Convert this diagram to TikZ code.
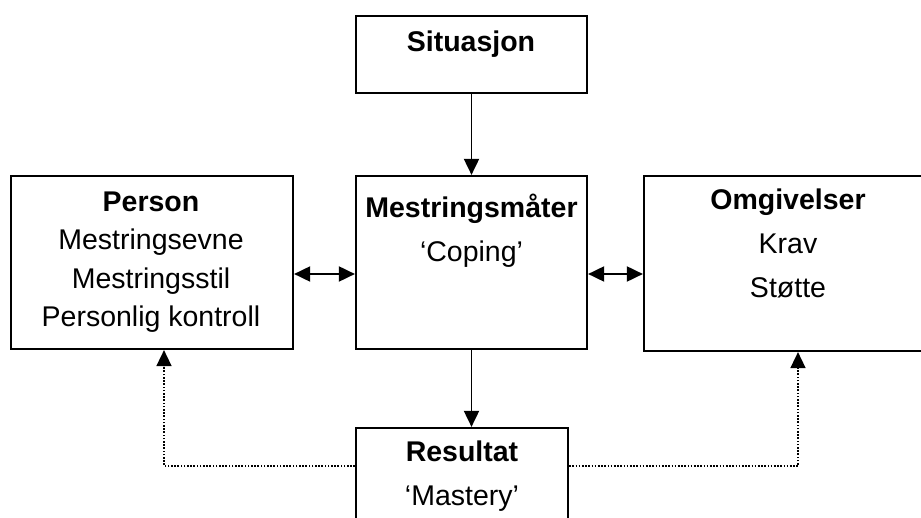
\documentclass[tikz,border=0pt]{standalone}
\usepackage{fontspec}
\setmainfont{Liberation Sans}
\usetikzlibrary{arrows.meta}
\begin{document}
\begin{tikzpicture}[x=1pt,y=-1pt,
  box/.style={draw, line width=2.2pt, rectangle, inner sep=0pt},
  txt/.style={anchor=base, inner sep=0pt, font=\fontsize{28.5}{34}\selectfont},
  bold/.style={anchor=base, inner sep=0pt, font=\fontsize{28.5}{34}\selectfont\bfseries},
  conn/.style={line width=1.9pt, -{Triangle[length=16pt,width=15pt]}},
  both/.style={line width=1.9pt, {Triangle[length=16pt,width=15pt]}-{Triangle[length=16pt,width=15pt]}},
  dots/.style={line width=1.6pt, dash pattern=on 1.6pt off 1.6pt, -{Triangle[length=16pt,width=15pt]}}]
\clip (0,0) rectangle (921,518);
\fill[white] (0,0) rectangle (921,518);
% boxes
\node[box, minimum width=231pt, minimum height=77pt] (sit) at (471.5,54.5) {};
\node[box, minimum width=282pt, minimum height=173pt] (person) at (152,262.5) {};
\node[box, minimum width=231pt, minimum height=173pt] (mest) at (471.5,262.5) {};
\node[box, minimum width=288pt, minimum height=175pt] (omg) at (788,263.5) {};
\node[box, minimum width=212pt, minimum height=140pt] (res) at (462,498) {};
% texts
\node[bold] (tsit) at (471,51.7) {Situasjon};
\node[bold] (tper) at (151,211.7) {Person};
\node[txt] (tper1) at (151,250) {Mestringsevne};
\node[txt] (tper2) at (151,289) {Mestringsstil};
\node[txt] (tper3) at (151,327) {Personlig kontroll};
\node[bold] (tmest) at (471.5,218) {Mestringsmåter};
\node[txt] (tmest1) at (471.5,262) {‘Coping’};
\node[bold] (tomg) at (788,210) {Omgivelser};
\node[txt] (tomg1) at (788,254) {Krav};
\node[txt] (tomg2) at (788,298) {Støtte};
\node[bold] (tres) at (462,461) {Resultat};
\node[txt] (tres1) at (462,505) {‘Mastery’};
% helper coordinates
\coordinate (ly) at (0,274);
\coordinate (hy) at (0,466);
\coordinate (dl) at (164,466);
\coordinate (dr) at (798,466);
% connectors
\draw[conn] (sit.south) -- (mest.north);
\draw[conn] (mest.south) -- (mest.south |- res.north);
\draw[both] (person.east |- ly) -- (mest.west |- ly);
\draw[both] (mest.east |- ly) -- (omg.west |- ly);
\draw[dots] (res.west |- hy) -| (person.south -| dl);
\draw[dots] (res.east |- hy) -| (omg.south -| dr);
\end{tikzpicture}
\end{document}
